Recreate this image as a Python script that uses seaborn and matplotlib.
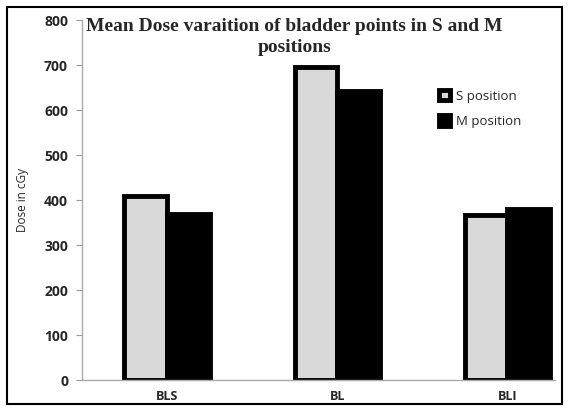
import pandas as pd
import matplotlib.pyplot as plt
import seaborn as sns
from matplotlib.patches import Rectangle

# values
points = ['BLS', 'BL', 'BLI']
s_position = [409, 696, 367]
m_position = [369, 642, 380]

df = pd.DataFrame({
    'Point': points * 2,
    'Dose': s_position + m_position,
    'Position': ['S position'] * 3 + ['M position'] * 3,
})

sns.set_style('white')
plt.rcParams['font.family'] = ['Open Sans', 'DejaVu Sans']

fig = plt.figure(figsize=(5.69, 4.11), dpi=100)
ax = fig.add_axes([0.144, 0.0754, 0.831, 0.8756])

sns.barplot(data=df, x='Point', y='Dose', hue='Position', order=points,
            palette={'S position': '#d9d9d9', 'M position': 'black'},
            width=0.5, edgecolor='black', linewidth=3.5, ax=ax)

ax.set_ylim(0, 800)
ax.set_xlim(-0.5, 2.28)
ax.set_yticks(range(0, 801, 100))
ax.set_xticks([0.5, 1.5], minor=True)
ax.set_xticks(range(3))
ax.set_xticklabels(points, fontweight='bold', fontsize=9)
for lab in ax.get_yticklabels():
    lab.set_fontweight('bold')
    lab.set_fontsize(10)
ax.tick_params(axis='x', which='major', length=0, pad=7)
ax.tick_params(axis='x', which='minor', length=4, color='#999999', direction='out')
ax.tick_params(axis='y', length=4, color='#999999', direction='out', left=True, pad=6)
ax.set_xlabel('')
ax.set_ylabel('Dose in cGy', fontsize=8.5, labelpad=11)
for side in ['top', 'right']:
    ax.spines[side].set_visible(False)
for side in ['left', 'bottom']:
    ax.spines[side].set_color('#aaaaaa')
    ax.spines[side].set_linewidth(1)

ax.text(0.45, 1.005, 'Mean Dose varaition of bladder points in S and M\npositions',
        transform=ax.transAxes, ha='center', va='top', fontsize=14,
        fontweight='bold', family='Liberation Serif', linespacing=1.3)

leg = ax.legend(loc='upper left', bbox_to_anchor=(0.73, 0.84), frameon=False,
                fontsize=9.5, handlelength=0.8, handleheight=0.8,
                handletextpad=0.5, labelspacing=0.95)

fig.patches.append(Rectangle((0.012, 0.017), 0.976, 0.966, transform=fig.transFigure,
                             fill=False, edgecolor='black', linewidth=1.5))

fig.savefig('out.png', dpi=100)
